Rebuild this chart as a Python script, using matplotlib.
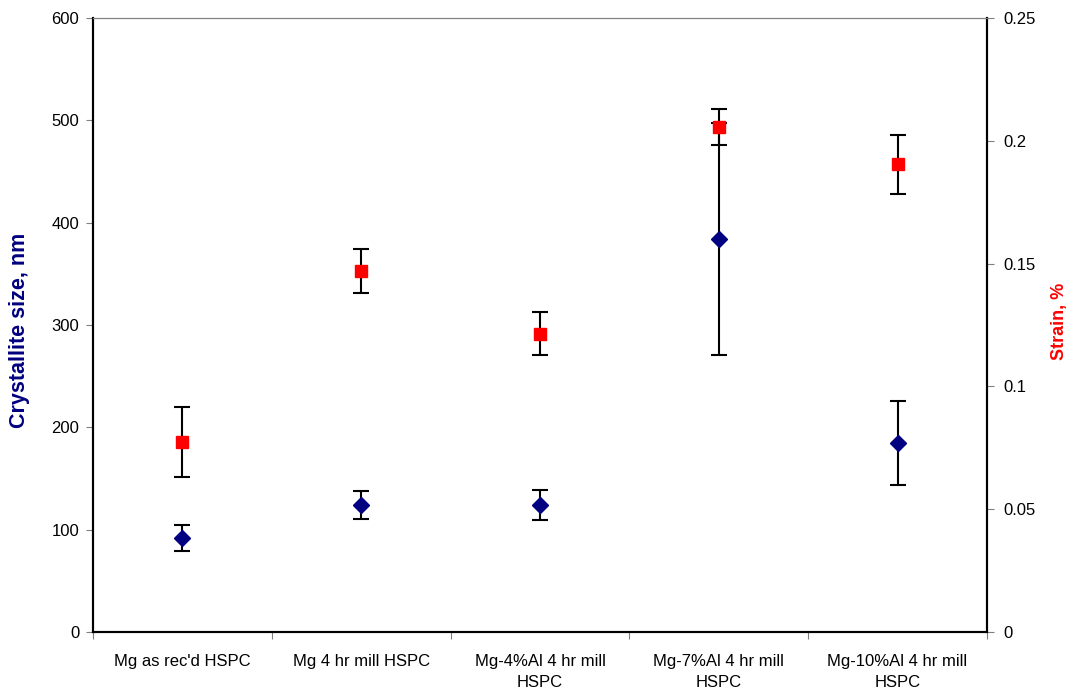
import matplotlib.pyplot as plt
import numpy as np

plt.rcParams['font.family'] = ['Liberation Sans', 'DejaVu Sans']

categories = ["Mg as rec'd HSPC", "Mg 4 hr mill HSPC", "Mg-4%Al 4 hr mill\nHSPC",
              "Mg-7%Al 4 hr mill\nHSPC", "Mg-10%Al 4 hr mill\nHSPC"]
size_nm = [92, 124, 124, 384, 185]
size_err = [13, 14, 15, 113, 41]
strain = [0.0775, 0.147, 0.1215, 0.2055, 0.1905]
strain_err = [0.0143, 0.0090, 0.0088, 0.0073, 0.0120]


def showdata():
    fig = plt.figure(figsize=(10.73, 6.92), dpi=100)
    ax = fig.add_axes([0.0867, 0.0867, 0.8331, 0.8873])
    ax2 = ax.twinx()

    x = np.arange(len(categories))
    ax.errorbar(x, size_nm, yerr=size_err, fmt='D', color='#000080', markersize=8,
                ecolor='black', elinewidth=1.5, capsize=5.5, capthick=1.5, zorder=3)
    ax2.errorbar(x, strain, yerr=strain_err, fmt='s', color='#ff0000', markersize=8,
                 ecolor='black', elinewidth=1.5, capsize=5.5, capthick=1.5, zorder=3)

    ax.set_xlim(-0.5, len(categories) - 0.5)
    ax.set_ylim(0, 600)
    ax2.set_ylim(0, 0.25)
    ax.set_yticks(range(0, 601, 100))
    ax2.set_yticks([0, 0.05, 0.1, 0.15, 0.2, 0.25])
    ax2.set_yticklabels(['0', '0.05', '0.1', '0.15', '0.2', '0.25'])

    # category labels at centres, tick marks between categories
    ax.set_xticks(x)
    ax.set_xticklabels(categories, fontsize=12, linespacing=1.5)
    ax.set_xticks(np.arange(-0.5, len(categories)), minor=True)
    ax.tick_params(axis='x', which='major', length=0, pad=16)
    ax.tick_params(axis='x', which='minor', length=5, width=0.8, color='#808080')
    ax.tick_params(axis='y', length=5, width=0.8, color='#808080', labelsize=12, pad=5)
    ax2.tick_params(axis='y', length=5, width=0.8, color='#808080', labelsize=12, pad=7)

    for a in (ax, ax2):
        a.spines['left'].set_linewidth(1.5)
        a.spines['right'].set_linewidth(1.5)
        a.spines['bottom'].set_linewidth(1.5)
        a.spines['top'].set_linewidth(0.8)
        a.spines['top'].set_color('#808080')

    ax.set_ylabel("Crystallite size, nm", color='#000080', fontsize=15.5,
                  fontweight='bold')
    ax.yaxis.set_label_coords(-0.07, 0.492)
    ax2.set_ylabel("Strain, %", color='#ff0000', fontsize=13,
                   fontweight='bold')
    ax2.yaxis.set_label_coords(1.072, 0.506)

    plt.savefig('out.png', dpi=100)


if __name__ == "__main__":
    showdata()
